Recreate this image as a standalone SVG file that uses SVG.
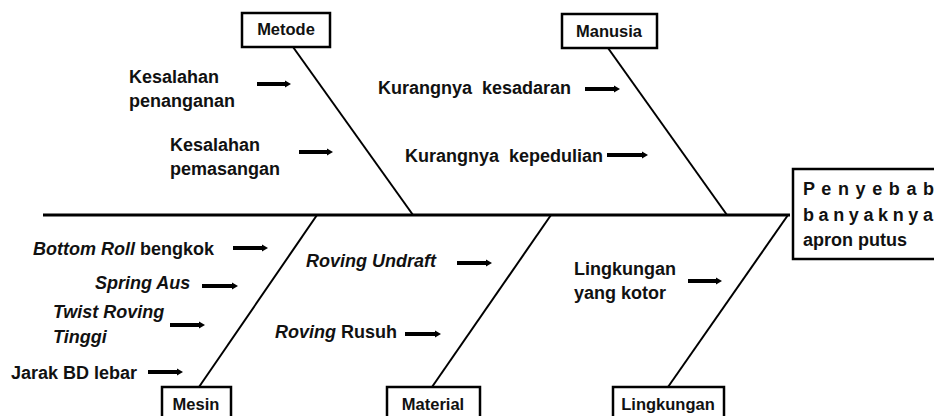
<svg xmlns="http://www.w3.org/2000/svg" width="934" height="416" viewBox="0 0 934 416">
<style>
text{font-family:"Liberation Sans",Arial,sans-serif;font-weight:bold;fill:#111;}
.lbl{font-size:18px;}
.box{font-size:16.5px;text-anchor:middle;}
.it{font-style:italic;}
.frame{fill:#fff;stroke:#000;stroke-width:2.5;}
.bone{stroke:#000;stroke-width:2;fill:none;}
.arr{stroke:#000;stroke-width:4;fill:none;marker-end:url(#ah);}
</style>
<defs>
<marker id="ah" markerUnits="userSpaceOnUse" markerWidth="8" markerHeight="10" refX="1" refY="5" orient="auto">
<path d="M0,1.5 L6,5 L0,8.5 Z" fill="#000"/>
</marker>
</defs>
<g id="connectors">
<line class="bone" x1="43" y1="215" x2="790" y2="215" style="stroke-width:3"/>
<line class="bone" x1="293" y1="47" x2="413" y2="215"/>
<line class="bone" x1="608" y1="48" x2="727" y2="215"/>
<line class="bone" x1="317" y1="215" x2="199" y2="387"/>
<line class="bone" x1="551" y1="215" x2="432" y2="387"/>
<line class="bone" x1="788" y1="215" x2="668" y2="387"/>
<line class="arr" x1="257" y1="84" x2="286" y2="84"/>
<line class="arr" x1="299" y1="152" x2="328" y2="152"/>
<line class="arr" x1="585" y1="89" x2="615" y2="89"/>
<line class="arr" x1="607" y1="155" x2="643" y2="155"/>
<line class="arr" x1="233" y1="248" x2="263" y2="248"/>
<line class="arr" x1="202" y1="286" x2="233" y2="286"/>
<line class="arr" x1="170" y1="325" x2="200" y2="325"/>
<line class="arr" x1="148" y1="372" x2="178" y2="372"/>
<line class="arr" x1="457" y1="263" x2="487" y2="263"/>
<line class="arr" x1="405" y1="334" x2="436" y2="334"/>
<line class="arr" x1="688" y1="281" x2="717" y2="281"/>
</g>
<g id="metode">
<rect class="frame" x="242" y="13" width="88" height="34"/>
<text class="box" x="286" y="35">Metode</text>
</g>
<g id="manusia">
<rect class="frame" x="562" y="14" width="95" height="34"/>
<text class="box" x="609" y="37">Manusia</text>
</g>
<g id="mesin">
<rect class="frame" x="162" y="387" width="69" height="40"/>
<text class="box" x="196" y="410">Mesin</text>
</g>
<g id="material">
<rect class="frame" x="387" y="387" width="93" height="40"/>
<text class="box" x="433" y="410">Material</text>
</g>
<g id="lingkungan">
<rect class="frame" x="613" y="387" width="111" height="40"/>
<text class="box" x="668" y="410">Lingkungan</text>
</g>
<g id="effect">
<rect class="frame" x="793" y="169" width="160" height="90"/>
<text class="lbl" x="803" y="195" textLength="131" lengthAdjust="spacing">P e n y e b a b</text>
<text class="lbl" x="803" y="221" textLength="130" lengthAdjust="spacing">b a n y a k n y a</text>
<text class="lbl" x="803" y="246">apron putus</text>
</g>
<g id="causes">
<text class="lbl" x="129" y="83">Kesalahan</text>
<text class="lbl" x="129" y="107">penanganan</text>
<text class="lbl" x="170" y="151">Kesalahan</text>
<text class="lbl" x="170" y="175">pemasangan</text>
<text class="lbl" x="378" y="94" xml:space="preserve">Kurangnya  kesadaran</text>
<text class="lbl" x="405" y="162" xml:space="preserve">Kurangnya  kepedulian</text>
<text class="lbl" x="33" y="255"><tspan class="it">Bottom Roll</tspan> bengkok</text>
<text class="lbl it" x="95" y="289">Spring Aus</text>
<text class="lbl it" x="53" y="318">Twist Roving</text>
<text class="lbl it" x="53" y="343">Tinggi</text>
<text class="lbl" x="11" y="379">Jarak BD lebar</text>
<text class="lbl it" x="306" y="267">Roving Undraft</text>
<text class="lbl" x="275" y="338"><tspan class="it">Roving</tspan> Rusuh</text>
<text class="lbl" x="574" y="275">Lingkungan</text>
<text class="lbl" x="574" y="299">yang kotor</text>
</g>
</svg>
